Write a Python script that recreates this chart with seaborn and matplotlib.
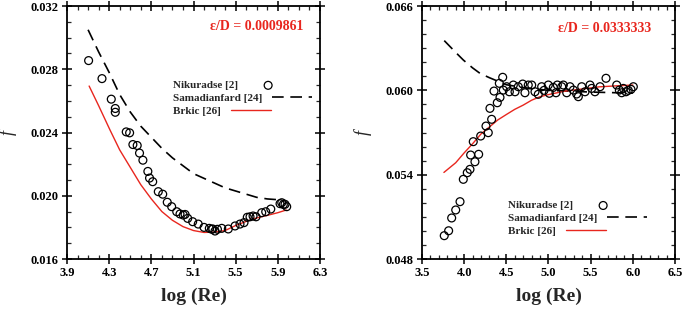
import pandas as pd
import matplotlib
matplotlib.use('Agg')
import matplotlib.pyplot as plt
from matplotlib.ticker import MultipleLocator, FormatStrFormatter
import seaborn as sns

# eps/D = 0.0009861
nik1_x = [4.105, 4.232, 4.32, 4.358, 4.358, 4.462, 4.494, 4.525, 4.566, 4.588,
          4.62, 4.667, 4.683, 4.713, 4.766, 4.808, 4.851, 4.893, 4.941, 4.972,
          5.003, 5.02, 5.045, 5.092, 5.145, 5.2, 5.25, 5.273, 5.283, 5.304,
          5.327, 5.368, 5.43, 5.494, 5.541, 5.579, 5.61, 5.636, 5.665, 5.693,
          5.747, 5.785, 5.833, 5.921, 5.937, 5.952, 5.968, 5.984]
nik1_f = [0.02855, 0.02741, 0.02611, 0.02552, 0.02528, 0.02404, 0.02398, 0.02324, 0.02318, 0.0227,
          0.02225, 0.02154, 0.02112, 0.02089, 0.02026, 0.0201, 0.01959, 0.01931, 0.01899, 0.01885,
          0.01878, 0.01882, 0.01857, 0.01836, 0.01821, 0.018, 0.01794, 0.01788, 0.0179, 0.01777,
          0.01788, 0.01794, 0.0179, 0.01809, 0.01821, 0.0183, 0.01864, 0.01867, 0.01872, 0.01867,
          0.01893, 0.01899, 0.01916, 0.0195, 0.01956, 0.01945, 0.01946, 0.01931]

sam1_x = [4.1, 4.2, 4.3, 4.4, 4.5, 4.6, 4.7, 4.8, 4.9, 5.0,
          5.1, 5.2, 5.3, 5.4, 5.5, 5.6, 5.7, 5.8, 5.9, 5.97]
sam1_f = [0.0305, 0.0291, 0.0278, 0.0264, 0.0253, 0.0244, 0.0237, 0.023, 0.0224, 0.0219,
          0.0214, 0.0211, 0.0208, 0.0205, 0.0203, 0.0201, 0.0199, 0.0198, 0.01975, 0.0197]

brk1_x = [4.11, 4.2, 4.308, 4.4, 4.5, 4.6, 4.7, 4.8, 4.9, 5.0,
          5.1, 5.2, 5.3, 5.4, 5.5, 5.6, 5.7, 5.8, 5.9, 5.98]
brk1_f = [0.02694, 0.0257, 0.02416, 0.0229, 0.0218, 0.0207, 0.0198, 0.019, 0.01845, 0.01805,
          0.0178, 0.01768, 0.0177, 0.0178, 0.01812, 0.01838, 0.0186, 0.01876, 0.01893, 0.0191]

# eps/D = 0.0333333
nik2_x = [3.764, 3.816, 3.852, 3.9, 3.951, 3.99, 4.037, 4.069, 4.077, 4.128,
          4.172, 4.108, 4.196, 4.286, 4.259, 4.326, 4.306, 4.393, 4.425, 4.354,
          4.464, 4.504, 4.417, 4.457, 4.536, 4.583, 4.603, 4.642, 4.694, 4.721,
          4.76, 4.801, 4.84, 4.879, 4.919, 4.947, 4.998, 5.01, 5.057, 5.089,
          5.105, 5.157, 5.176, 5.216, 5.255, 5.295, 5.334, 5.354, 5.394, 5.433,
          5.492, 5.512, 5.551, 5.611, 5.682, 5.809, 5.84, 5.868, 5.887, 5.919,
          5.946, 5.978, 6.006]
nik2_f = [0.04966, 0.05001, 0.05092, 0.05149, 0.05208, 0.05367, 0.05414, 0.05438, 0.0554, 0.05492,
          0.05545, 0.05635, 0.05675, 0.05699, 0.05746, 0.05794, 0.05872, 0.05912, 0.0595, 0.05995,
          0.06002, 0.06026, 0.0605, 0.06093, 0.0599, 0.06038, 0.0599, 0.06026, 0.06045, 0.05983,
          0.06038, 0.06038, 0.0599, 0.05972, 0.06026, 0.06, 0.06038, 0.05979, 0.06021, 0.05983,
          0.06038, 0.06026, 0.06038, 0.05983, 0.06026, 0.06002, 0.05974, 0.05955, 0.06026, 0.0599,
          0.06038, 0.06014, 0.0599, 0.06026, 0.06086, 0.06038, 0.06002, 0.05983, 0.06014, 0.0599,
          0.06, 0.06007, 0.06026]

sam2_x = [3.764, 3.9, 3.99, 4.1, 4.188, 4.3, 4.4, 4.5, 4.7, 5.0, 5.5, 6.0]
sam2_f = [0.06354, 0.0627, 0.06216, 0.0616, 0.06121, 0.0609, 0.06065, 0.0604, 0.0602, 0.06, 0.05988, 0.0598]

brk2_x = [3.76, 3.9, 4.0, 4.1, 4.2, 4.3, 4.4, 4.5, 4.6, 4.7,
          4.8, 4.9, 5.0, 5.2, 5.4, 5.6, 5.8, 6.0]
brk2_f = [0.05416, 0.05485, 0.05555, 0.0562, 0.0569, 0.0574, 0.0579, 0.05828, 0.05865, 0.05895,
          0.0593, 0.05955, 0.0597, 0.05995, 0.0601, 0.06025, 0.06032, 0.06038]

RED = '#e8261e'

sns.set_style('ticks')
plt.rcParams['font.family'] = ['Liberation Serif', 'DejaVu Serif']
plt.rcParams['font.weight'] = 'bold'


def draw_panel(ax, nx, nf, sx, sf, bx, bf, xlim, xmaj, xoff, ylim, ymaj, title, title_pos, leg_pos):
    sns.scatterplot(x=nx, y=nf, ax=ax, s=32, facecolors='none', edgecolor='black',
                    linewidth=0.9, label='Nikuradse [2]', zorder=3)
    sns.lineplot(x=sx, y=sf, ax=ax, color='black', linewidth=1.2,
                 linestyle=(0, (7, 4)), label='Samadianfard [24]')
    sns.lineplot(x=bx, y=bf, ax=ax, color=RED, linewidth=1.0, label='Brkic [26]')

    ax.set_xlim(*xlim)
    ax.set_ylim(*ylim)
    ax.xaxis.set_major_locator(MultipleLocator(xmaj, offset=xoff))
    ax.xaxis.set_minor_locator(MultipleLocator(0.1))
    ax.yaxis.set_major_locator(MultipleLocator(ymaj))
    ax.yaxis.set_minor_locator(MultipleLocator(0.001))
    ax.xaxis.set_major_formatter(FormatStrFormatter('%.1f'))
    ax.yaxis.set_major_formatter(FormatStrFormatter('%.3f'))

    for s in ax.spines.values():
        s.set_visible(True)
        s.set_linewidth(1.3)
        s.set_color('black')
    ax.tick_params(which='major', direction='inout', length=7, width=1.1,
                   top=True, right=True, labelsize=9, pad=2.5, colors='black')
    ax.tick_params(which='minor', direction='in', length=3, width=0.9,
                   top=True, right=True)

    ax.set_xlabel('log (Re)', fontsize=14, fontweight='bold', labelpad=6)
    ax.set_ylabel('f', fontsize=13, fontstyle='italic', fontweight='normal', labelpad=10)

    ax.text(title_pos[0], title_pos[1], title, transform=ax.transAxes, color=RED,
            fontsize=10, fontweight='bold', va='center', ha='left')

    handles, labels = ax.get_legend_handles_labels()
    order = ['Nikuradse [2]', 'Samadianfard [24]', 'Brkic [26]']
    hs = [handles[labels.index(k)] for k in order]
    leg = ax.legend(hs, order, loc='center left', bbox_to_anchor=leg_pos, frameon=False,
                    markerfirst=False, prop={'size': 8, 'weight': 'bold'},
                    handlelength=3.6, handletextpad=0.9, labelspacing=0.27,
                    borderpad=0, borderaxespad=0)
    # texts left aligned, handle right after each text
    for col in leg._legend_handle_box.get_children():
        col.align = 'left'


fig, axes = plt.subplots(1, 2, figsize=(6.85, 3.18), dpi=100)
fig.subplots_adjust(left=0.0978, right=0.9854, bottom=0.1855, top=0.981, wspace=0.403)

draw_panel(axes[0], nik1_x, nik1_f, sam1_x, sam1_f, brk1_x, brk1_f,
           (3.9, 6.3), 0.4, 0.3, (0.016, 0.032), 0.004,
           'ε/D = 0.0009861', (0.565, 0.918), (0.419, 0.636))
draw_panel(axes[1], nik2_x, nik2_f, sam2_x, sam2_f, brk2_x, brk2_f,
           (3.5, 6.5), 0.5, 0.0, (0.048, 0.066), 0.006,
           'ε/D = 0.0333333', (0.538, 0.913), (0.34, 0.161))

plt.savefig('out.png', dpi=100)
plt.close()
